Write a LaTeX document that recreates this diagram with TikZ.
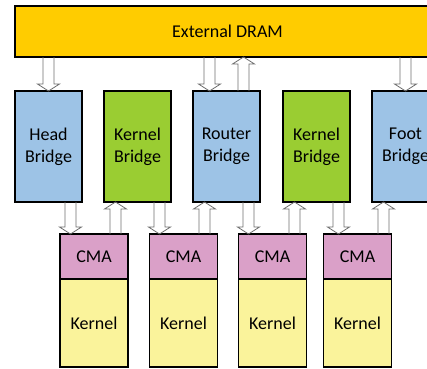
\documentclass[tikz,border=0pt]{standalone}
\usepackage{fontspec}
\setmainfont{Carlito}
\usetikzlibrary{positioning, calc}
\definecolor{dramgold}{RGB}{255,204,0}
\definecolor{bridgeblue}{RGB}{157,195,230}
\definecolor{bridgegreen}{RGB}{154,205,50}
\definecolor{cmapink}{RGB}{218,160,200}
\definecolor{kernelyellow}{RGB}{250,243,155}
\definecolor{busgray}{RGB}{110,110,110}

\begin{document}
\begin{tikzpicture}[x=1pt, y=-1pt, node distance=22pt,
    box/.style={draw, line width=1.5pt, rectangle, inner sep=0pt, outer sep=0pt, align=center, font=\fontsize{18}{22}\selectfont},
    bridge/.style={box, fill=bridgeblue, minimum width=67pt, minimum height=111pt},
    kbridge/.style={bridge, fill=bridgegreen},
    cma/.style={box, fill=cmapink, minimum width=68pt, minimum height=45pt},
    kernel/.style={box, fill=kernelyellow, minimum width=68pt, minimum height=88pt},
    bus/.style={draw=busgray, line width=0.8pt, to path={let \p1=(\tikztostart), \p2=(\tikztotarget), \p3=($(\p2)!7pt!(\p1)$) in
        (\x1-5.5pt,\y1) -- (\x1-5.5pt,\y3) -- (\x1-11pt,\y3) -- (\x1,\y2) -- (\x1+11pt,\y3) -- (\x1+5.5pt,\y3) -- (\x1+5.5pt,\y1)}}]
    \clip (0,0) rectangle (427,368);

    % External memory
    \node[box, fill=dramgold, minimum width=425pt, minimum height=51pt] (dram) at (227.5,31.5) {External DRAM};

    % Bridges
    \node[bridge] (head) at (48.5,146.5) {Head\\Bridge};
    \node[kbridge, right=of head] (kbridge1) {Kernel\\Bridge};
    \node[bridge, right=of kbridge1] (router) {Router\\Bridge};
    \node[kbridge, right=23pt of router] (kbridge2) {Kernel\\Bridge};
    \node[bridge, right=of kbridge2] (foot) {Foot\\Bridge};

    % CMA on top of each kernel
    \node[cma] (cma1) at (94,256.5) {CMA};
    \node[kernel, below=0pt of cma1] (kernel1) {Kernel};
    \node[cma] (cma2) at (183.5,256.5) {CMA};
    \node[kernel, below=0pt of cma2] (kernel2) {Kernel};
    \node[cma] (cma3) at (272.5,256.5) {CMA};
    \node[kernel, below=0pt of cma3] (kernel3) {Kernel};
    \node[cma] (cma4) at (357.5,256.5) {CMA};
    \node[kernel, below=0pt of cma4] (kernel4) {Kernel};

    % Ports
    \coordinate (rin) at ([xshift=-17pt]router.north);
    \coordinate (rout) at ([xshift=17pt]router.north);
    \coordinate (hd) at ([xshift=22pt]head.south);
    \coordinate (k1u) at ([xshift=-22pt]kbridge1.south);
    \coordinate (k1d) at ([xshift=22pt]kbridge1.south);
    \coordinate (ru) at ([xshift=-22pt]router.south);
    \coordinate (rd) at ([xshift=22pt]router.south);
    \coordinate (k2u) at ([xshift=-22pt]kbridge2.south);
    \coordinate (k2d) at ([xshift=22pt]kbridge2.south);
    \coordinate (fu) at ([xshift=-22pt]foot.south);

    % DRAM links
    \draw[bus] (dram.south -| head.north) to (head.north);
    \draw[bus] (dram.south -| rin) to (rin);
    \draw[bus] (rout) to (dram.south -| rout);
    \draw[bus] (dram.south -| foot.north) to (foot.north);

    % Bridge to CMA links
    \draw[bus] (hd) to (hd |- cma1.north);
    \draw[bus] (k1u |- cma1.north) to (k1u);
    \draw[bus] (k1d) to (k1d |- cma2.north);
    \draw[bus] (ru |- cma2.north) to (ru);
    \draw[bus] (rd) to (rd |- cma3.north);
    \draw[bus] (k2u |- cma3.north) to (k2u);
    \draw[bus] (k2d) to (k2d |- cma4.north);
    \draw[bus] (fu |- cma4.north) to (fu);
\end{tikzpicture}
\end{document}
